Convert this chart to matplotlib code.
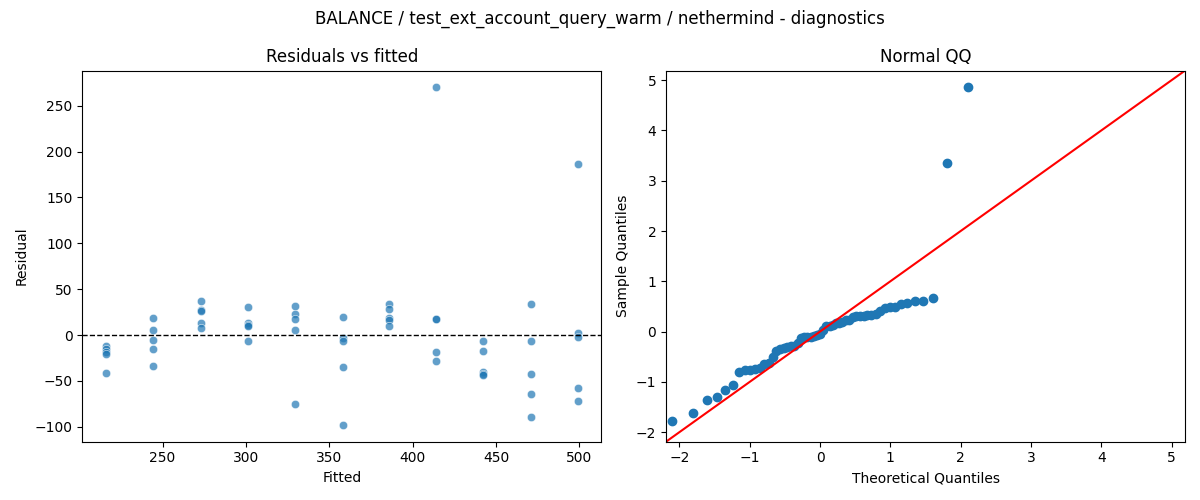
import numpy as np
import matplotlib
matplotlib.use("Agg")
import matplotlib.pyplot as plt
import seaborn as sns
from statistics import NormalDist

# fitted levels and residuals
fitted_levels = [216, 244.5, 273, 301, 329.5, 358, 386, 414, 442.5, 471, 499]
resid_216 = [-12, -15, -19, -21, -41]
resid_244 = [19, 6, -5, -15, -34]
resid_273 = [37, 27, 26, 13, 8]
resid_301 = [31, 13, 10.5, 10, -6]
resid_329 = [32, 23, 18, 6, -75]
resid_358 = [20, -3, -7, -35, -98]
resid_386 = [34, 28, 19, 16, 10]
resid_414 = [270, 18, 17, -18, -28]
resid_442 = [-6, -17, -40, -42, -44]
resid_471 = [34, -6, -42, -64, -89]
resid_499 = [186, 2, -2, -58, -72]
groups = [resid_216, resid_244, resid_273, resid_301, resid_329, resid_358,
          resid_386, resid_414, resid_442, resid_471, resid_499]

fitted = np.concatenate([[f] * len(g) for f, g in zip(fitted_levels, groups)])
resid = np.concatenate([np.array(g, float) for g in groups])

fig, axes = plt.subplots(1, 2, figsize=(12, 5), dpi=100)
ax = axes[0]
sns.scatterplot(x=fitted, y=resid, alpha=0.7, ax=ax)
ax.axhline(0, color="black", linestyle="--", linewidth=1)
ax.set_title("Residuals vs fitted")
ax.set_xlabel("Fitted")
ax.set_ylabel("Residual")

# Normal QQ
ax2 = axes[1]
n = len(resid)
srt = np.sort(resid)
sample_q = (srt - srt.mean()) / srt.std()
nd = NormalDist()
theo_q = np.array([nd.inv_cdf(i / (n + 1)) for i in range(1, n + 1)])
ax2.plot(theo_q, sample_q, "o", color="C0", markersize=6)
lims = [-2.19, 5.19]
ax2.plot(lims, lims, "r-")
ax2.set_xlim(lims)
ax2.set_ylim(lims)
ax2.set_title("Normal QQ")
ax2.set_xlabel("Theoretical Quantiles")
ax2.set_ylabel("Sample Quantiles")

fig.suptitle("BALANCE / test_ext_account_query_warm / nethermind - diagnostics")
fig.tight_layout()
fig.savefig("out.png")
